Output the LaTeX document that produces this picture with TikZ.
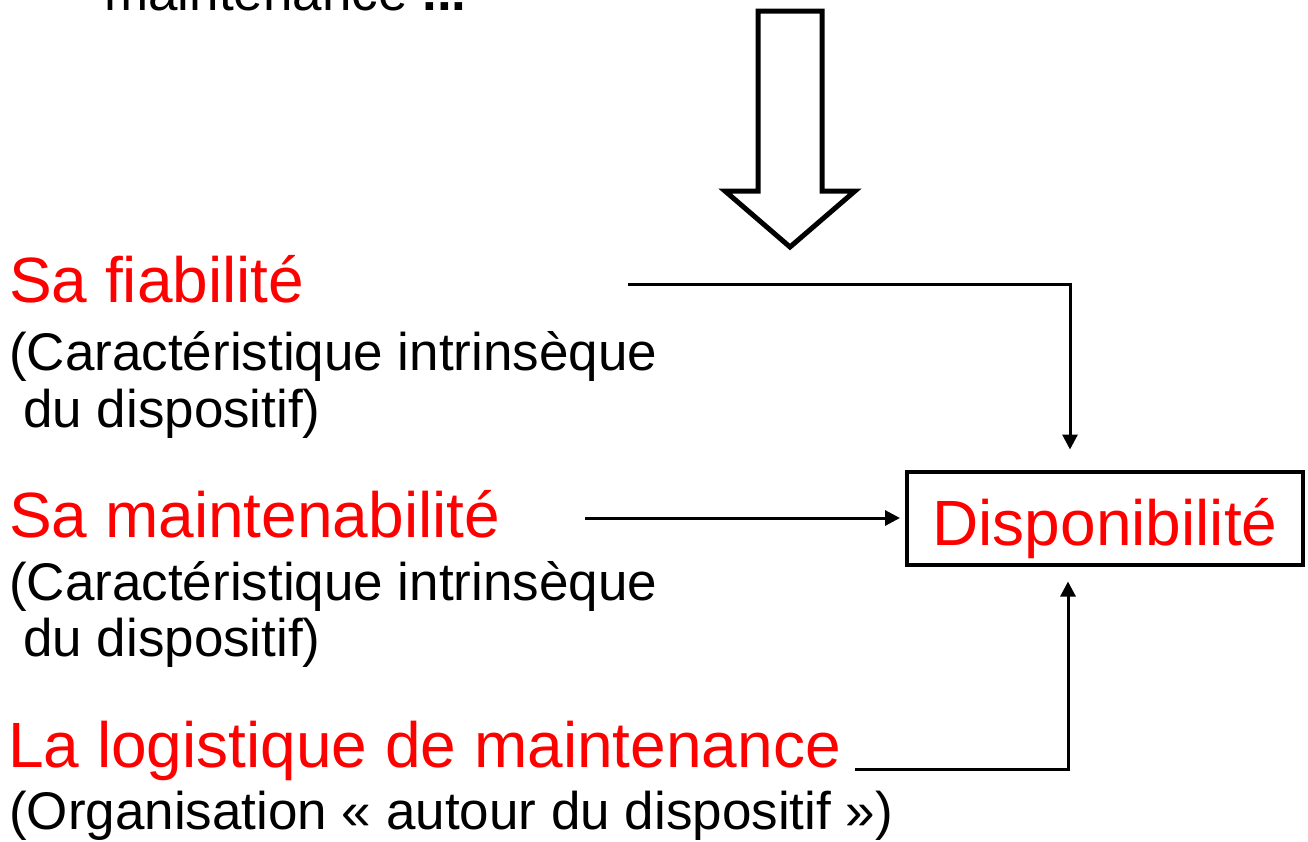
\documentclass[tikz,border=0pt]{standalone}
\usepackage{fontspec}
\setmainfont{Liberation Sans}
\usetikzlibrary{arrows.meta}

\begin{document}
\begin{tikzpicture}
      [x=1pt, y=-1pt,
      redlbl/.style={anchor=base west, inner sep=0pt, text=red,
        font=\fontsize{64}{70}\selectfont},
      blklbl/.style={anchor=base west, inner sep=0pt, text=black,
        font=\fontsize{53}{60}\selectfont},
      dispobox/.style={draw, line width=4pt, text=red, minimum width=396pt,
        minimum height=93pt, text height=54pt, text depth=0pt,
        font=\fontsize{64}{70}\selectfont},
      link/.style={line width=3pt, -{Triangle[length=15pt,width=15pt]}}]
      \path[use as bounding box, clip] (0,0) rectangle (1308,841);
      \node[blklbl] (top) at (104,10) {maintenance \textbf{...}};
      \draw[line width=5pt, line join=miter]
        (758,11) -- (822,11) -- (822,191) -- (855,191) -- (790,247)
        -- (725,191) -- (758,191) -- cycle;
      \node[redlbl] (fiab) at (9,302) {Sa fiabilité};
      \node[blklbl] (fiab1) at (9,370) {(Caractéristique intrinsèque};
      \node[blklbl] (fiab2) at (23,427) {du dispositif)};
      \node[redlbl] (maint) at (9,537) {Sa maintenabilité};
      \node[blklbl] (maint1) at (9,600) {(Caractéristique intrinsèque};
      \node[blklbl] (maint2) at (23,656) {du dispositif)};
      \node[redlbl] (logi) at (8,767) {La logistique de maintenance};
      \node[blklbl] (logi1) at (9,829) {(Organisation « autour du dispositif »)};
      \node[dispobox] (dispo) at (1105,518) {Disponibilité};
      \coordinate (fiabstart) at (628,284);
      \coordinate (maintstart) at (585,518);
      \coordinate (logistart) at (855,769);
      \draw[link, shorten >=20pt] (fiabstart) -| ([xshift=-35pt]dispo.north);
      \draw[link, shorten >=5pt] (maintstart) -- (dispo.west);
      \draw[link, shorten >=15pt] (logistart) -| ([xshift=-37pt]dispo.south);
\end{tikzpicture}
\end{document}
